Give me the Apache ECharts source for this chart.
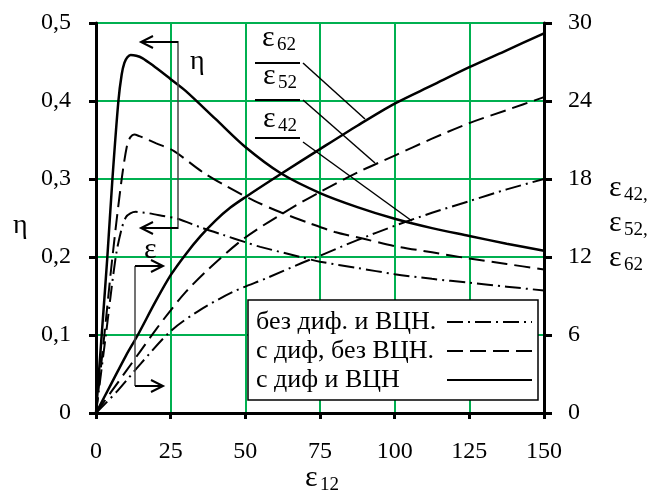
<!DOCTYPE html>
<html><head><meta charset="utf-8">
<script src="https://cdn.jsdelivr.net/npm/echarts@6/dist/echarts.min.js"></script>
<style>html,body{margin:0;padding:0;background:#fff}#c{width:655px;height:498px}</style>
</head><body><div id="c"></div>
<script>
// ---------- data ----------
const seriesNames = ['без диф. и ВЦН.', 'с диф, без ВЦН.', 'с диф и ВЦН'];
const xTicks = [0, 25, 50, 75, 100, 125, 150];
const etaTicks = [0, 0.1, 0.2, 0.3, 0.4, 0.5];
const epsTicks = [0, 6, 12, 18, 24, 30];

// η – без диф. и ВЦН. (dash-dot)
const etaDashDotX = [0, 3.3, 6.6, 8.5, 10, 11.5, 13.3, 15.5, 17.8, 22, 27.3, 35, 42.8, 50, 55, 68.5, 75, 87.5, 100, 112.5, 125, 137.5, 150];
const etaDashDotY = [0, 0.1, 0.2, 0.235, 0.251, 0.256, 0.258, 0.257, 0.256, 0.253, 0.249, 0.238, 0.228, 0.219, 0.213, 0.2, 0.194, 0.186, 0.178, 0.172, 0.167, 0.162, 0.157];
// η – с диф, без ВЦН. (dashed)
const etaDashX = [0, 2.8, 5.5, 8.6, 10.5, 11.6, 12.8, 14.5, 17, 20, 26, 36, 44, 53, 62, 71, 80, 90, 100, 112.5, 125, 137.5, 150];
const etaDashY = [0, 0.1, 0.2, 0.3, 0.345, 0.354, 0.357, 0.355, 0.351, 0.346, 0.336, 0.308, 0.29, 0.272, 0.257, 0.244, 0.232, 0.223, 0.214, 0.206, 0.198, 0.191, 0.184];
// η – с диф и ВЦН (solid)
const etaSolidX = [0, 2, 3.8, 5.5, 7.5, 8.6, 9.5, 10.5, 11.6, 13.5, 15.5, 18.9, 25, 30, 40, 50, 62, 75, 87.5, 100, 112.5, 125, 137.5, 150];
const etaSolidY = [0, 0.105, 0.2, 0.3, 0.4, 0.434, 0.449, 0.456, 0.459, 0.458, 0.455, 0.446, 0.428, 0.413, 0.377, 0.341, 0.307, 0.282, 0.264, 0.249, 0.237, 0.227, 0.217, 0.208];

// ε42 – без диф. и ВЦН. (dash-dot)
const epsDashDotX = [0, 7.2, 15, 25, 34, 45.7, 57.4, 68.5, 75, 87.5, 100, 112.5, 125, 137.5, 150];
const epsDashDotY = [0, 1.7, 3.8, 6.3, 7.8, 9.3, 10.4, 11.5, 12.1, 13.3, 14.4, 15.4, 16.3, 17.2, 18.0];
// ε52 – с диф, без ВЦН. (dashed)
const epsDashX = [0, 5, 10, 15, 20, 25, 30, 37.8, 50, 65, 75, 87.5, 100, 112.5, 125, 137.5, 150];
const epsDashY = [0, 1.6, 3.2, 4.8, 6.4, 7.9, 9.3, 11.1, 13.5, 15.7, 17.0, 18.5, 19.8, 21.1, 22.3, 23.3, 24.3];
// ε62 – с диф и ВЦН (solid)
const epsSolidX = [0, 5, 10, 14, 20, 25, 30, 35, 40, 45, 50, 62, 75, 87.5, 100, 112.5, 125, 137.5, 150];
const epsSolidY = [0, 2.2, 4.4, 6.0, 8.6, 10.6, 12.2, 13.6, 14.8, 15.8, 16.6, 18.4, 20.3, 22.1, 23.8, 25.2, 26.6, 27.9, 29.2];

// ---------- chart ----------
const FONT = '"Liberation Serif", "Times New Roman", Times, serif';
const GREEN = '#00b050';
const lineTypes = [
  { type: [16, 5, 2, 5], width: 2 },
  { type: [16, 7], width: 2 },
  { type: 'solid', width: 2.5 }
];
const etaSets = [[etaDashDotX, etaDashDotY], [etaDashX, etaDashY], [etaSolidX, etaSolidY]];
const epsSets = [[epsDashDotX, epsDashDotY], [epsDashX, epsDashY], [epsSolidX, epsSolidY]];
const pairs = (xs, ys) => xs.map((x, i) => [x, ys[i]]);

const series = [];
seriesNames.forEach((name, i) => {
  [[etaSets[i], 0], [epsSets[i], 1]].forEach(([set, axis]) => {
    series.push({
      name, type: 'line', yAxisIndex: axis, data: pairs(set[0], set[1]),
      symbol: 'none', showSymbol: false, smooth: 0.3, silent: true, animation: false,
      lineStyle: Object.assign({ color: '#000' }, lineTypes[i]),
      itemStyle: { color: '#000' }, z: 3
    });
  });
});

const T = (text, x, y, size, extra) => ({
  type: 'text', x, y, z: 20, silent: true,
  style: Object.assign({ text, fontFamily: FONT, fontSize: size, fill: '#000', align: 'left', verticalAlign: 'middle' }, extra || {})
});
const L = (x1, y1, x2, y2, w, c) => ({
  type: 'line', z: 20, silent: true, shape: { x1, y1, x2, y2 }, style: { stroke: c || '#000', lineWidth: w || 1.5 }
});
const arrowL = (x1, x2, y) => [L(x1, y, x2, y, 2), { type: 'polyline', z: 20, silent: true, shape: { points: [[x2 + 12, y - 6], [x2, y], [x2 + 12, y + 6]] }, style: { stroke: '#000', lineWidth: 2, fill: null } }];
const arrowR = (x1, x2, y) => [L(x1, y, x2, y, 2), { type: 'polyline', z: 20, silent: true, shape: { points: [[x2 - 12, y - 6], [x2, y], [x2 - 12, y + 6]] }, style: { stroke: '#000', lineWidth: 2, fill: null } }];
const eps = (x, y, sub) => [T('ε', x, y, 30), T(sub, x + 15, y + 7, 19)];

const graphic = [
  // η bracket
  L(178, 41, 178, 229, 1.5, '#444'),
  ...arrowL(178, 141, 42),
  ...arrowL(178, 141, 228),
  T('η', 190, 62, 28),
  // ε bracket
  L(135, 266, 135, 386, 1.5, '#444'),
  ...arrowR(135, 163, 266),
  ...arrowR(135, 163, 386),
  T('ε', 144, 250, 30),
  // curve labels
  ...eps(262, 38, '62'), L(255, 63, 300, 63, 2), L(303, 63, 365, 119, 1.5),
  ...eps(263, 76, '52'), L(255, 100, 300, 100, 2), L(303, 100, 375, 163, 1.5),
  ...eps(263, 119, '42'), L(255, 138, 300, 138, 2), L(303, 142, 412, 221, 1.5),
  // axis names
  T('η', 13, 226, 28),
  ...eps(305, 478, '12'),
  ...eps(609, 188, '42,'),
  ...eps(609, 223, '52,'),
  ...eps(609, 258, '62')
];

const chart = echarts.init(document.getElementById('c'), null, { renderer: 'canvas' });
chart.setOption({
  animation: false,
  backgroundColor: '#fff',
  textStyle: { fontFamily: FONT },
  grid: { left: 96, top: 23, width: 448, height: 390, containLabel: false },
  xAxis: {
    type: 'value', min: xTicks[0], max: xTicks[xTicks.length - 1], interval: 25,
    axisLine: { lineStyle: { color: '#000', width: 3 } },
    axisTick: { length: 6, lineStyle: { color: '#000', width: 3 } },
    axisLabel: { fontFamily: FONT, fontSize: 24, color: '#000', margin: 27 },
    splitLine: { show: true, lineStyle: { color: GREEN, width: 2 } }
  },
  yAxis: [{
    type: 'value', min: etaTicks[0], max: etaTicks[etaTicks.length - 1], interval: 0.1,
    axisLine: { show: true, lineStyle: { color: '#000', width: 3 } },
    axisTick: { show: true, length: 7, lineStyle: { color: '#000', width: 3 } },
    axisLabel: { fontFamily: FONT, fontSize: 24, color: '#000', margin: 25, formatter: v => String(+v.toFixed(1)).replace('.', ',') },
    splitLine: { show: true, lineStyle: { color: GREEN, width: 2 } }
  }, {
    type: 'value', position: 'right', min: epsTicks[0], max: epsTicks[epsTicks.length - 1], interval: 6,
    axisLine: { show: true, lineStyle: { color: '#000', width: 3 } },
    axisTick: { show: true, length: 8, lineStyle: { color: '#000', width: 3 } },
    axisLabel: { fontFamily: FONT, fontSize: 24, color: '#000', margin: 24 },
    splitLine: { show: false }
  }],
  legend: {
    data: seriesNames, orient: 'vertical', left: 248, top: 300, align: 'right',
    itemWidth: 85, itemHeight: 14, itemGap: 3, padding: [9, 5, 7, 8],
    borderColor: '#000', borderWidth: 1.5, backgroundColor: '#fff', selectedMode: false,
    itemStyle: { opacity: 0 },
    formatter: name => '{t|' + name + '}',
    textStyle: {
      fontFamily: FONT, fontSize: 26, color: '#000',
      rich: { t: { width: 186, align: 'left', fontFamily: FONT, fontSize: 26, color: '#000' } }
    }
  },
  series,
  graphic
});
</script></body></html>
